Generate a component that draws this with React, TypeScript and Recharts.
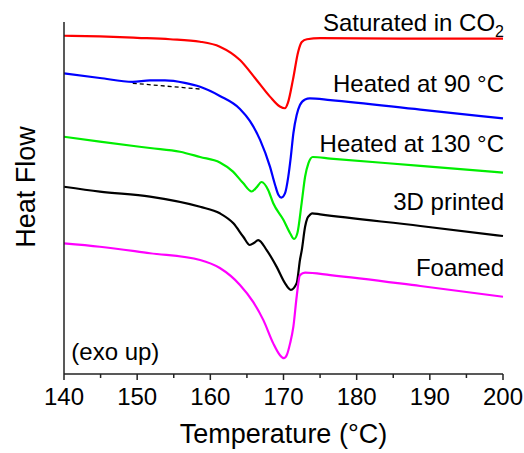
import { LineChart, Line, XAxis, YAxis, ReferenceDot } from "recharts";

const FONT = "'Liberation Sans', Arial, sans-serif";
const AXIS = "#222";

const xTicks = [140, 145, 150, 155, 160, 165, 170, 175, 180, 185, 190, 195, 200];

// heat flow in arbitrary units (exo up), curves offset for clarity
const satT = [140, 144.9, 150, 154.5, 158.6, 161.3, 164.05, 166.1, 168.15, 169.5, 170.2, 170.6, 171.3, 172, 172.5, 173.2, 175, 186, 200];
const satHF = [96.1, 95.9, 95.5, 95.1, 94.4, 93.0, 89.2, 84.1, 78.8, 76.0, 75.5, 77.0, 83.7, 91.5, 94.3, 95.1, 95.4, 95.3, 95.3];

const h90T = [140, 144.9, 149.4, 151.75, 153.8, 156.5, 158.6, 161.3, 164.05, 165.4, 166.8, 168.15, 168.85, 169.3, 169.7, 170.2, 170.65, 171, 171.35, 171.8, 172.25, 172.95, 173.6, 176.4, 188.7, 200];
const h90HF = [85.4, 84.1, 83.0, 83.4, 83.4, 82.7, 81.6, 79.0, 75.3, 71.9, 66.5, 58.9, 53.7, 50.9, 50.1, 51.3, 56.0, 61.7, 68.4, 73.6, 76.4, 78.0, 78.3, 77.8, 75.1, 72.6];
// baseline drawn under the small exotherm of the 90 °C sample
const h90BaseT = [149.4, 158.9];
const h90BaseHF = [82.6, 80.9];

const h130T = [140, 144.9, 151.75, 155.85, 158.6, 161.3, 163.1, 164.45, 165.65, 166.35, 167, 167.9, 168.6, 170, 170.9, 171.45, 171.9, 172.5, 172.95, 173.4, 174, 176.4, 188.7, 200];
const h130HF = [67.4, 66.0, 64.2, 63.15, 61.65, 60.1, 57.5, 54.3, 51.85, 53.1, 54.55, 52.3, 48.5, 43.75, 40.0, 38.35, 40.05, 48.9, 56.05, 59.85, 61.65, 61.2, 59.15, 57.2];

const printT = [140, 144.9, 151.75, 158.6, 161.3, 163.15, 164.5, 165.4, 165.95, 166.55, 167.7, 169.05, 170.2, 171, 171.8, 172.25, 172.5, 172.95, 173.25, 173.6, 173.9, 175, 188.7, 200];
const printHF = [53.2, 51.8, 50.4, 47.5, 45.65, 42.8, 39.0, 36.65, 37.2, 38.05, 35.2, 30.5, 25.8, 23.9, 25.8, 32.4, 35.2, 41.85, 44.2, 45.15, 45.65, 45.35, 42.05, 39.2];

const foamT = [140, 144.9, 151.75, 158.6, 161.3, 164.05, 165.85, 167.25, 168.6, 169.5, 170.05, 170.45, 170.9, 171.35, 171.8, 172.25, 172.95, 176.4, 188.7, 200];
const foamHF = [37.1, 36.15, 34.3, 32.4, 30.1, 25.3, 20.5, 15.3, 8.7, 5.4, 4.5, 5.4, 8.7, 13.45, 21.95, 28.1, 28.8, 28.1, 25.0, 21.95];

const toRows = (t: number[], hf: number[]) => t.map((x, i) => ({ t: x, hf: hf[i] }));

const series = [
  { name: "Saturated in CO2", color: "#ff0000", rows: toRows(satT, satHF) },
  { name: "Heated at 90 °C", color: "#0000ff", rows: toRows(h90T, h90HF) },
  { name: "Heated at 130 °C", color: "#00ee00", rows: toRows(h130T, h130HF) },
  { name: "3D printed", color: "#000000", rows: toRows(printT, printHF) },
  { name: "Foamed", color: "#ff00ff", rows: toRows(foamT, foamHF) },
];

const labelY = [97.5, 80.2, 63.15, 46.6, 27.85];

function TempTick({ x, y, payload }: any) {
  const major = payload.value % 10 === 0;
  return (
    <g>
      <line x1={x} y1={y} x2={x} y2={y + (major ? 6 : 4)} stroke={AXIS} strokeWidth={1.5} />
      {major && (
        <text x={x} y={y + 31} textAnchor="middle" fontSize={24} fill="#000" fontFamily={FONT}>
          {payload.value}
        </text>
      )}
    </g>
  );
}

function CurveLabel({ cx, cy, text }: any) {
  if (text === "Saturated in CO2") {
    return (
      <text x={cx + 1} y={cy} textAnchor="end" fontSize={24} fill="#000" fontFamily={FONT}>
        Saturated in CO
        <tspan fontSize={16} dy={6}>2</tspan>
      </text>
    );
  }
  return (
    <text x={cx + 1} y={cy} textAnchor="end" fontSize={24} fill="#000" fontFamily={FONT}>
      {text}
    </text>
  );
}

export default function App() {
  return (
    <div style={{ position: "fixed", left: 0, top: 0, background: "#fff" }}>
      <LineChart width={524} height={453} margin={{ top: 22, right: 21, left: 0, bottom: 0 }}>
        <XAxis
          dataKey="t"
          type="number"
          domain={[140, 200]}
          ticks={xTicks}
          interval={0}
          height={79}
          tickSize={0}
          tickMargin={0}
          tickLine={false}
          axisLine={{ stroke: AXIS, strokeWidth: 1.5 }}
          tick={<TempTick />}
          label={(p: any) => (
            <text
              x={p.viewBox.x + p.viewBox.width / 2}
              y={p.viewBox.y + 69}
              textAnchor="middle"
              fontSize={27}
              fill="#000"
              fontFamily={FONT}
            >
              Temperature (°C)
            </text>
          )}
        />
        <YAxis
          type="number"
          domain={[0, 100]}
          width={64}
          tick={false}
          tickLine={false}
          axisLine={{ stroke: AXIS, strokeWidth: 1.5 }}
          label={() => (
            <text
              x={35}
              y={187}
              transform="rotate(-90, 35, 187)"
              textAnchor="middle"
              fontSize={27}
              fill="#000"
              fontFamily={FONT}
            >
              Heat Flow
            </text>
          )}
        />
        <Line
          data={toRows(h90BaseT, h90BaseHF)}
          dataKey="hf"
          type="linear"
          stroke="#000"
          strokeWidth={1.3}
          strokeDasharray="4 3"
          dot={false}
          isAnimationActive={false}
        />
        {series.map((s) => (
          <Line
            key={s.name}
            data={s.rows}
            dataKey="hf"
            name={s.name}
            type="monotone"
            stroke={s.color}
            strokeWidth={2.2}
            dot={false}
            isAnimationActive={false}
          />
        ))}
        {series.map((s, i) => (
          <ReferenceDot
            key={"lbl" + s.name}
            x={200}
            y={labelY[i]}
            r={0}
            shape={(p: any) => <CurveLabel cx={p.cx} cy={p.cy} text={s.name} />}
          />
        ))}
        <ReferenceDot
          x={141}
          y={4}
          r={0}
          shape={(p: any) => (
            <text x={p.cx} y={p.cy} fontSize={24} fill="#000" fontFamily={FONT}>
              (exo up)
            </text>
          )}
        />
      </LineChart>
    </div>
  );
}
